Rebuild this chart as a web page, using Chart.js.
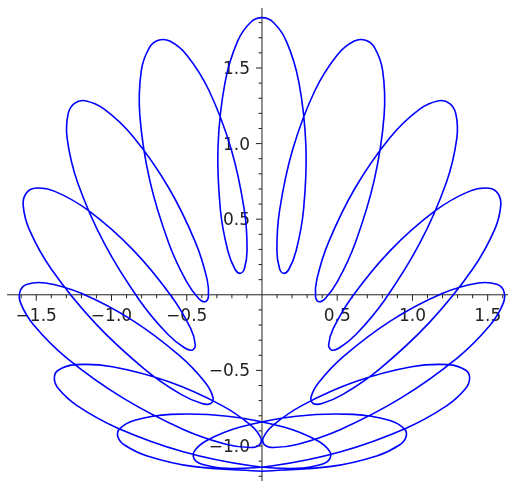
<!DOCTYPE html>
<html>
<head>
<meta charset="utf-8">
<title>Parametric curve</title>
<script src="https://cdn.jsdelivr.net/npm/chart.js@4.4.0/dist/chart.umd.min.js"></script>
<style>
  html, body { margin: 0; padding: 0; background: #ffffff; }
  #chart-box { width: 508px; height: 481px; }
</style>
</head>
<body>
<div id="chart-box"><canvas id="myChart" width="508" height="481"></canvas></div>
<script>
// right half of the curve: from the bottom of the y axis, lobe by lobe, up to the top lobe
const rightX = [
  0.000, 0.461, 0.762, 0.911, 0.957, 0.946, 0.845, 0.607, 0.228, -0.144, -0.367, -0.451, -0.450,
  -0.393, -0.234, 0.072, 0.523, 0.958, 1.229, 1.352, 1.380, 1.354, 1.239, 0.994, 0.623, 0.274, 0.075, 0.007, 0.017,
  0.078, 0.233, 0.519, 0.925, 1.299, 1.517, 1.603, 1.608, 1.565, 1.439, 1.197, 0.853, 0.544, 0.376, 0.325, 0.340,
  0.399, 0.538, 0.781, 1.112, 1.398, 1.547, 1.587, 1.568, 1.510, 1.377, 1.152, 0.854, 0.602, 0.474, 0.443, 0.461,
  0.513, 0.626, 0.812, 1.046, 1.226, 1.295, 1.288, 1.246, 1.175, 1.046, 0.853, 0.620, 0.442, 0.365, 0.356, 0.378,
  0.421, 0.502, 0.620, 0.746, 0.812, 0.802, 0.750, 0.689, 0.613, 0.499, 0.352, 0.204, 0.117, 0.099, 0.117, 0.144,
  0.179, 0.227, 0.276, 0.292, 0.245, 0.161, 0.073, 0.000
];
const rightY = [
  -1.167, -1.135, -1.066, -0.995, -0.940, -0.887, -0.830, -0.791, -0.803, -0.875, -0.964, -1.037, -1.086,
  -1.123, -1.148, -1.131, -1.038, -0.882, -0.733, -0.622, -0.552, -0.499, -0.462, -0.476, -0.574, -0.728, -0.862, -0.949, -0.992,
  -1.010, -0.990, -0.892, -0.682, -0.417, -0.200, -0.057, 0.021, 0.068, 0.078, 0.008, -0.174, -0.406, -0.582, -0.681, -0.719,
  -0.719, -0.659, -0.491, -0.184, 0.167, 0.433, 0.593, 0.670, 0.705, 0.684, 0.556, 0.294, -0.009, -0.222, -0.331, -0.365,
  -0.352, -0.261, -0.039, 0.336, 0.745, 1.036, 1.198, 1.266, 1.283, 1.226, 1.042, 0.708, 0.347, 0.104, -0.014, -0.046,
  -0.024, 0.088, 0.343, 0.758, 1.190, 1.483, 1.632, 1.683, 1.678, 1.585, 1.351, 0.961, 0.558, 0.295, 0.172, 0.142,
  0.169, 0.291, 0.559, 0.982, 1.407, 1.679, 1.804, 1.833
];

// left half: from the top lobe back down to the starting point
const leftX = [
  -0.073, -0.161, -0.245, -0.292, -0.276, -0.227, -0.179,
  -0.144, -0.117, -0.099, -0.117, -0.204, -0.352, -0.499, -0.613, -0.689, -0.750, -0.802, -0.812, -0.746, -0.620, -0.502, -0.421,
  -0.378, -0.356, -0.365, -0.442, -0.620, -0.853, -1.046, -1.175, -1.246, -1.288, -1.295, -1.226, -1.046, -0.812, -0.626, -0.513,
  -0.461, -0.443, -0.474, -0.602, -0.854, -1.152, -1.377, -1.510, -1.568, -1.587, -1.547, -1.398, -1.112, -0.781, -0.538, -0.399,
  -0.340, -0.325, -0.376, -0.544, -0.853, -1.197, -1.439, -1.565, -1.608, -1.603, -1.517, -1.299, -0.925, -0.519, -0.233, -0.078,
  -0.017, -0.007, -0.075, -0.274, -0.623, -0.994, -1.239, -1.354, -1.380, -1.352, -1.229, -0.958, -0.523, -0.072, 0.234, 0.393,
  0.450, 0.451, 0.367, 0.144, -0.228, -0.607, -0.845, -0.946, -0.957, -0.911, -0.762, -0.461, 0.000
];
const leftY = [
  1.804, 1.679, 1.407, 0.982, 0.559, 0.291, 0.169,
  0.142, 0.172, 0.295, 0.558, 0.961, 1.351, 1.585, 1.678, 1.683, 1.632, 1.483, 1.190, 0.758, 0.343, 0.088, -0.024,
  -0.046, -0.014, 0.104, 0.347, 0.708, 1.042, 1.226, 1.283, 1.266, 1.198, 1.036, 0.745, 0.336, -0.039, -0.261, -0.352,
  -0.365, -0.331, -0.222, -0.009, 0.294, 0.556, 0.684, 0.705, 0.670, 0.593, 0.433, 0.167, -0.184, -0.491, -0.659, -0.719,
  -0.719, -0.681, -0.582, -0.406, -0.174, 0.008, 0.078, 0.068, 0.021, -0.057, -0.200, -0.417, -0.682, -0.892, -0.990, -1.010,
  -0.992, -0.949, -0.862, -0.728, -0.574, -0.476, -0.462, -0.499, -0.552, -0.622, -0.733, -0.882, -1.038, -1.131, -1.148, -1.123,
  -1.086, -1.037, -0.964, -0.875, -0.803, -0.791, -0.830, -0.887, -0.940, -0.995, -1.066, -1.135, -1.167
];

const xTicks = [-1.5, -1.0, -0.5, 0.5, 1.0, 1.5];
const xTickLabels = ["\u22121.5", "\u22121.0", "\u22120.5", "0.5", "1.0", "1.5"];
const yTicks = [-1.0, -0.5, 0.5, 1.0, 1.5];
const yTickLabels = ["\u22121.0", "\u22120.5", "0.5", "1.0", "1.5"];

var curvePoints = [];
for (var i = 0; i < rightX.length; i++) {
  curvePoints.push({ x: rightX[i], y: rightY[i] });
}
for (var i = 0; i < leftX.length; i++) {
  curvePoints.push({ x: leftX[i], y: leftY[i] });
}

// axes crossing at the origin, ticks every 0.1, labels every 0.5
const crossAxes = {
  id: "crossAxes",
  beforeDatasetsDraw(chart, args, opts) {
    const ctx = chart.ctx;
    const sx = chart.scales.x;
    const sy = chart.scales.y;
    const ox = sx.getPixelForValue(0);
    const oy = sy.getPixelForValue(0);

    ctx.save();
    ctx.strokeStyle = opts.color;
    ctx.lineWidth = 1;
    ctx.beginPath();
    ctx.moveTo(sx.getPixelForValue(opts.xFrom), oy);
    ctx.lineTo(chart.width, oy);
    ctx.moveTo(ox, sy.getPixelForValue(opts.yTo));
    ctx.lineTo(ox, chart.height);

    for (var k = -16; k <= 16; k++) {
      if (k === 0) continue;
      var px = sx.getPixelForValue(k / 10);
      var len = k % 5 === 0 ? opts.majorLen : opts.minorLen;
      ctx.moveTo(px, oy);
      ctx.lineTo(px, oy + len);
    }
    for (var k = -12; k <= 18; k++) {
      if (k === 0) continue;
      var py = sy.getPixelForValue(k / 10);
      var len = k % 5 === 0 ? opts.majorLen : opts.minorLen;
      ctx.moveTo(ox, py);
      ctx.lineTo(ox - len, py);
    }
    ctx.stroke();

    ctx.fillStyle = opts.textColor;
    ctx.font = opts.font;
    ctx.textBaseline = "alphabetic";
    ctx.textAlign = "center";
    xTicks.forEach(function (v, n) {
      ctx.fillText(xTickLabels[n], sx.getPixelForValue(v), oy + 26);
    });
    ctx.textAlign = "right";
    yTicks.forEach(function (v, n) {
      ctx.fillText(yTickLabels[n], ox - 12, sy.getPixelForValue(v) + 6);
    });
    ctx.restore();
  }
};

new Chart(document.getElementById("myChart"), {
  type: "scatter",
  data: {
    datasets: [
      {
        data: curvePoints,
        showLine: true,
        fill: false,
        borderColor: "#0000ff",
        borderWidth: 1.6,
        borderJoinStyle: "round",
        borderCapStyle: "round",
        tension: 0.35,
        pointRadius: 0,
        pointHoverRadius: 0,
      },
    ],
  },
  options: {
    responsive: false,
    animation: false,
    devicePixelRatio: 1,
    layout: { padding: 0 },
    scales: {
      x: { type: "linear", min: -1.741, max: 1.635, display: false },
      y: { type: "linear", min: -1.2315, max: 1.9497, display: false },
    },
    plugins: {
      legend: { display: false },
      tooltip: { enabled: false },
      crossAxes: {
        color: "#222222",
        textColor: "#222222",
        font: '17px "DejaVu Sans"',
        xFrom: -1.694,
        yTo: 1.896,
        majorLen: 6,
        minorLen: 3.5,
      },
    },
  },
  plugins: [crossAxes],
});
</script>
</body>
</html>
